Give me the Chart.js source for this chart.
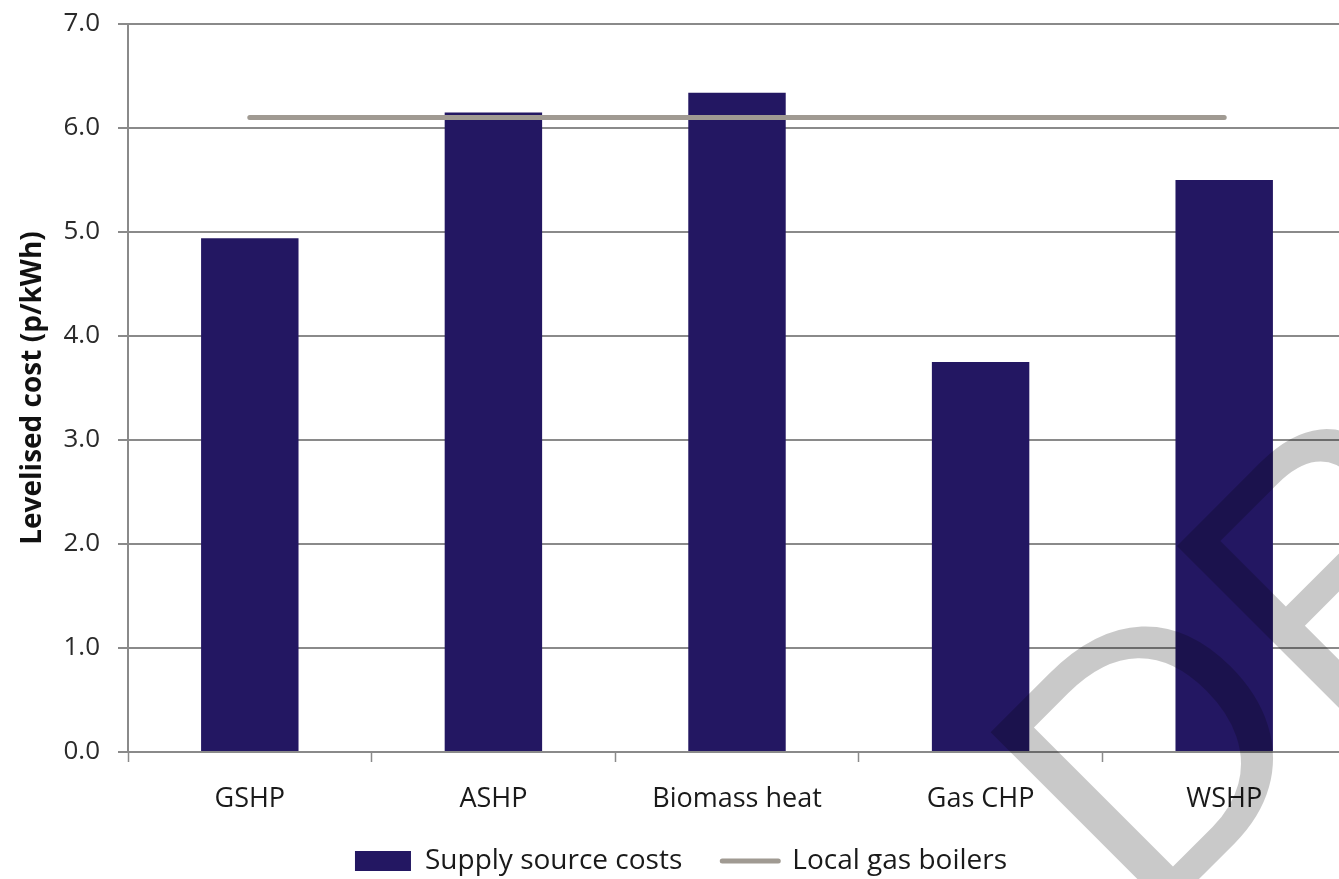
<!DOCTYPE html>
<html>
<head>
<meta charset="utf-8">
<script src="https://cdn.jsdelivr.net/npm/chart.js@4.4.1/dist/chart.umd.min.js"></script>
<style>
  html, body { margin: 0; padding: 0; background: #ffffff; overflow: hidden; }
  #wrap { position: relative; width: 1360px; height: 879px; }
</style>
</head>
<body>
<div id="wrap"><canvas id="chart"></canvas></div>
<script>
// Levelised cost of heat by supply source, against local gas boilers
const categories = ['GSHP', 'ASHP', 'Biomass heat', 'Gas CHP', 'WSHP'];
const supplySourceCosts = [4.94, 6.15, 6.34, 3.75, 5.50];
const localGasBoilers = [6.1, 6.1, 6.1, 6.1, 6.1];
const yTicks = [0, 1, 2, 3, 4, 5, 6, 7];
const seriesNames = ['Supply source costs', 'Local gas boilers'];
const axisTitle = 'Levelised cost (p/kWh)';
const stampText = 'DRAFT';

const FONT = '"Open Sans", "Noto Sans", sans-serif';
const GRID = '#8a8a8a';

// Large diagonal "DRAFT" stamp drawn over the finished chart
const draftStamp = {
  id: 'draftStamp',
  afterDraw(chart) {
    const ctx = chart.ctx;
    ctx.save();
    ctx.translate(1147, 931);
    ctx.rotate(-Math.PI / 4);
    ctx.font = '365px "Liberation Sans", Arial, sans-serif';
    ctx.textAlign = 'left';
    ctx.textBaseline = 'alphabetic';
    ctx.fillStyle = 'rgba(0,0,0,0.21)';
    ctx.fillText(stampText, 0, 0);
    ctx.restore();
  }
};

// Pull the legend row up so it sits closer to the category labels
const legendLift = {
  id: 'legendLift',
  beforeDraw(chart) {
    const lg = chart.legend;
    if (lg) { lg.top -= 20; lg.bottom -= 20; }
  }
};

new Chart(document.getElementById('chart'), {
  data: {
    labels: categories,
    datasets: [
      {
        type: 'bar',
        label: seriesNames[0],
        data: supplySourceCosts,
        backgroundColor: '#231762',
        borderWidth: 0,
        barPercentage: 0.4,
        categoryPercentage: 1.0,
        order: 1
      },
      {
        type: 'line',
        label: seriesNames[1],
        data: localGasBoilers,
        borderColor: '#a09a92',
        backgroundColor: '#a09a92',
        borderWidth: 5,
        borderCapStyle: 'round',
        pointRadius: 0,
        pointHoverRadius: 0,
        pointStyle: 'line',
        fill: false,
        tension: 0,
        order: 0
      }
    ]
  },
  options: {
    responsive: true,
    maintainAspectRatio: false,
    animation: false,
    layout: { padding: { top: 24, left: 16, right: 14, bottom: -26 } },
    plugins: {
      tooltip: { enabled: false },
      legend: {
        position: 'bottom',
        labels: {
          font: { family: FONT, size: 28 },
          color: '#1a1a1a',
          usePointStyle: true,
          pointStyleWidth: 56,
          boxHeight: 20,
          padding: 40,
          sort: (a, b) => a.datasetIndex - b.datasetIndex,
          generateLabels(chart) {
            return chart.data.datasets.map((ds, i) => ({
              text: ds.label,
              datasetIndex: i,
              fillStyle: ds.type === 'bar' ? ds.backgroundColor : ds.borderColor,
              strokeStyle: ds.type === 'bar' ? ds.backgroundColor : ds.borderColor,
              lineWidth: ds.type === 'bar' ? 0 : ds.borderWidth,
              lineCap: 'round',
              pointStyle: ds.type === 'bar' ? 'rect' : 'line',
              fontColor: '#1a1a1a',
              hidden: false
            }));
          }
        }
      }
    },
    scales: {
      x: {
        offset: true,
        grid: {
          display: true,
          offset: true,
          drawOnChartArea: false,
          drawTicks: true,
          tickLength: 10,
          tickWidth: 1.5,
          tickColor: GRID,
          color: GRID
        },
        border: { display: true, color: GRID, width: 2 },
        ticks: {
          font: { family: FONT, size: 27 },
          color: '#1a1a1a',
          padding: 21,
          maxRotation: 0,
          autoSkip: false
        },
        afterFit(scale) { scale.height = 75; }
      },
      y: {
        min: 0,
        max: 7,
        afterBuildTicks(scale) { scale.ticks = yTicks.map(v => ({ value: v })); },
        grid: {
          color: GRID,
          lineWidth: 2,
          tickLength: 10,
          drawTicks: true
        },
        border: { display: true, color: GRID, width: 2 },
        ticks: {
          font: { family: FONT, size: 26 },
          color: '#2a2a2a',
          padding: 18,
          callback: v => Number(v).toFixed(1)
        },
        title: {
          display: true,
          text: axisTitle,
          font: { family: FONT, size: 28, weight: 'bold' },
          color: '#111111',
          padding: { top: 0, bottom: 0 }
        },
        afterFit(scale) {
          scale.width = 112;
          scale.paddingTop = 0;
          scale.paddingBottom = 0;
        }
      }
    }
  },
  plugins: [draftStamp, legendLift]
});
</script>
</body>
</html>
